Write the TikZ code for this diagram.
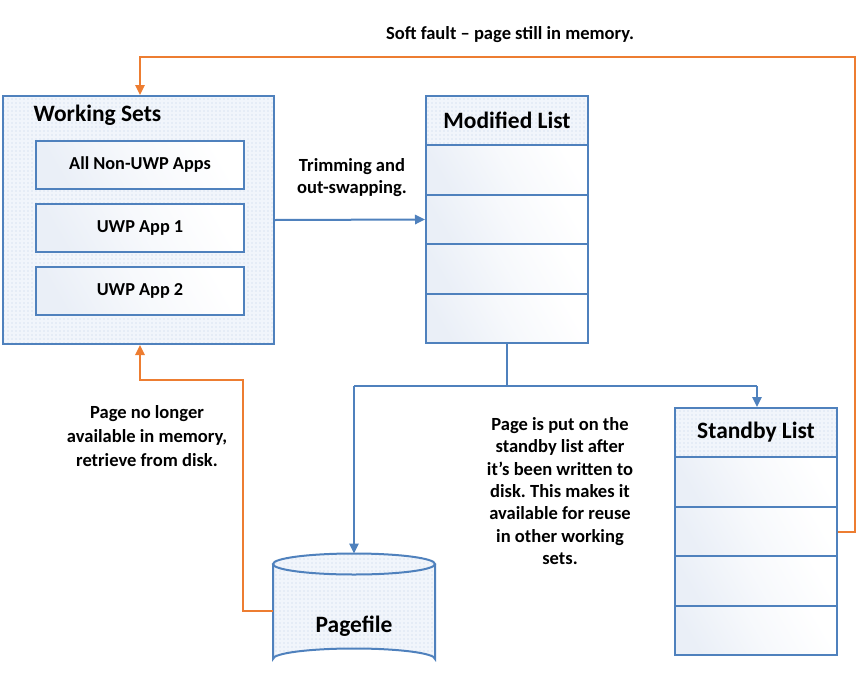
\documentclass[tikz,border=0pt]{standalone}
\usepackage{fontspec}
\setmainfont{Carlito}
\frenchspacing
\usetikzlibrary{arrows.meta,patterns}
\definecolor{bl}{HTML}{4F81BD}
\definecolor{orng}{HTML}{ED7D31}
\definecolor{dotfill}{HTML}{F1F5FB}
\definecolor{dotcol}{HTML}{BFD0E8}
\definecolor{shadeblue}{HTML}{EAEFF7}
\tikzset{
  dotted fill/.style={preaction={fill=dotfill}, pattern=dots, pattern color=dotcol},
  outerbox/.style={draw=bl, line width=1.5pt, dotted fill, minimum width=271*0.75pt, minimum height=248*0.75pt, inner sep=0pt},
  appbox/.style={draw=bl, line width=1.5pt, top color=shadeblue, bottom color=white, middle color=white!60!shadeblue, shading angle=120, minimum width=208*0.75pt, minimum height=48*0.75pt, font=\fontsize{13.7}{16}\selectfont\bfseries, inner sep=0pt},
  headbox/.style={draw=bl, line width=1.5pt, dotted fill, minimum width=162*0.75pt, minimum height=49*0.75pt, font=\fontsize{17.6}{20}\selectfont\bfseries, inner sep=0pt},
  rowbox/.style={draw=bl, line width=1.5pt, top color=shadeblue, bottom color=white, middle color=white!60!shadeblue, shading angle=120, minimum width=162*0.75pt, minimum height=49.5*0.75pt, inner sep=0pt},
  title/.style={font=\fontsize{17.6}{20}\selectfont\bfseries, inner sep=0pt},
  note/.style={font=\fontsize{13.9}{16.8}\selectfont\bfseries, align=center, inner sep=0pt},
  blarrow/.style={draw=bl, line width=1.5pt, -{Triangle[length=7.5pt,width=7pt]}},
  blline/.style={draw=bl, line width=1.5pt},
  orarrow/.style={draw=orng, line width=1.5pt, -{Triangle[length=7.5pt,width=7pt]}},
}
\begin{document}
\begin{tikzpicture}[x=0.75pt,y=-0.75pt]
\useasboundingbox (0,0) rectangle (868,675);
% Working sets
\node[outerbox] (ws) at (138.5,220) {};
\node[title] (wstitle) at (97.5,115) {Working Sets};
\node[appbox] (app0) at (140,165) {All Non-UWP Apps};
\node[appbox] (app1) at (140,228) {UWP App 1};
\node[appbox] (app2) at (140,291) {UWP App 2};
% Modified list
\node[headbox] (mh) at (507,120.5) {Modified List};
\node[rowbox] (m1) at (507,170) {};
\node[rowbox] (m2) at (507,219.5) {};
\node[rowbox] (m3) at (507,269) {};
\node[rowbox] (m4) at (507,318.5) {};
% Standby list
\node[headbox] (sh) at (756,432.5) {Standby List};
\node[rowbox] (s1) at (756,482) {};
\node[rowbox] (s2) at (756,531.5) {};
\node[rowbox] (s3) at (756,581) {};
\node[rowbox] (s4) at (756,630.5) {};
% Pagefile cylinder
\path[dotted fill] (273,564) arc[start angle=180,end angle=360,x radius=81,y radius=10.5] -- (435,659) arc[start angle=0,end angle=-180,x radius=81,y radius=10.5] -- cycle;
\path[dotted fill] (354,564) ellipse[x radius=81,y radius=10.5];
\draw[bl, line width=1.5pt] (354,564) ellipse[x radius=81,y radius=10.5];
\draw[bl, line width=1.5pt] (273,564) -- (273,659) arc[start angle=180,end angle=360,x radius=81,y radius=10.5] -- (435,564);
\node[draw=none, minimum width=162*0.75pt, minimum height=106*0.75pt, inner sep=0pt] (pf) at (354,606.5) {};
\node[title] (pftext) at (354,626) {Pagefile};
\coordinate (pftop) at (354,553.5);
% Connectors
\coordinate (split) at (507,386);
\coordinate (splitL) at (354,386);
\coordinate (splitR) at (757,386);
\draw[blarrow] (ws.east |- 0,220) -- (m2.west);
\draw[blline] (m4.south) -- (split);
\draw[blline] (splitL) -- (splitR);
\draw[blarrow] (splitL) -- (pftop);
\draw[blarrow] (splitR) -- (sh.north -| splitR);
\coordinate (o1) at (243,611);
\coordinate (o2) at (243,380);
\coordinate (o3) at (140,380);
\draw[orarrow] (pf.west |- o1) -- (o1) -- (o2) -- (o3) -- (ws.south -| o3);
\coordinate (q1) at (855,532);
\coordinate (q2) at (855,57);
\coordinate (q3) at (140,57);
\draw[orarrow] (s2.east |- q1) -- (q1) -- (q2) -- (q3) -- (ws.north -| q3);
% Notes
\node[note] (softfault) at (510,35) {Soft fault -- page still in memory.};
\node[note] (trim) at (352,177.5) {Trimming and\\out-swapping.};
\node[note, font=\fontsize{13.9}{18}\selectfont\bfseries] (nolonger) at (147,436) {Page no longer\\available in memory,\\retrieve from disk.};
\node[note] (standbynote) at (560,491) {Page is put on the\\standby list after\\it’s been written to\\disk. This makes it\\available for reuse\\in other working\\sets.};
\end{tikzpicture}
\end{document}
